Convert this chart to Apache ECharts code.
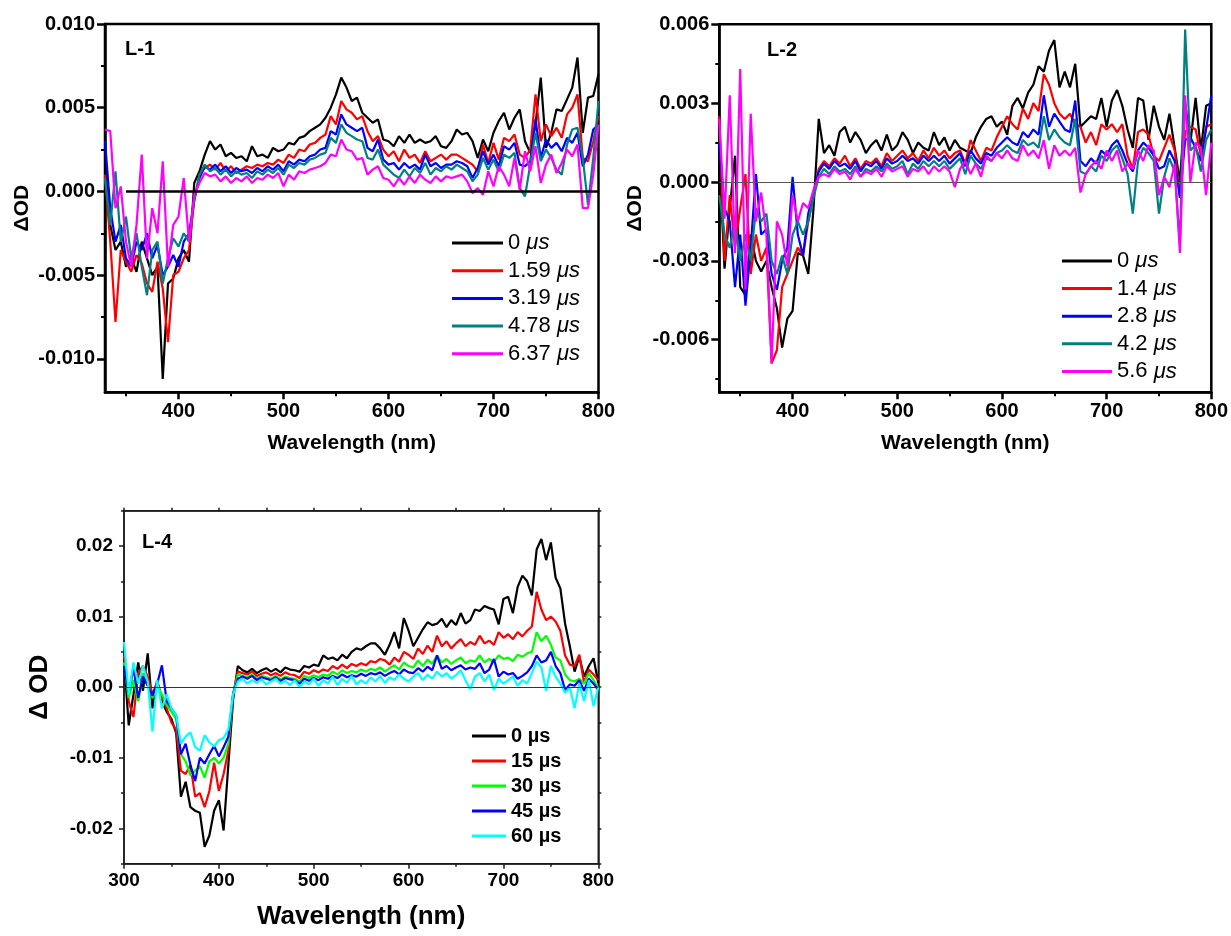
<!DOCTYPE html>
<html>
<head>
<meta charset="utf-8">
<title>Transient absorption spectra</title>
<script src="https://cdn.jsdelivr.net/npm/echarts@6/dist/echarts.min.js"></script>
<style>
  html, body { margin: 0; padding: 0; background: #fff; }
  #chart { width: 1231px; height: 936px; }
</style>
</head>
<body>
<div id="chart"></div>
<script>
// ---------- L-1 : delays 0 - 6.37 us ----------
const l1Wavelength = [
  330,335,340,345,350,355,360,365,370,375,
  380,385,390,395,400,405,410,415,420,425,
  430,435,440,445,450,455,460,465,470,475,
  480,485,490,495,500,505,510,515,520,525,
  530,535,540,545,550,555,560,565,570,575,
  580,585,590,595,600,605,610,615,620,625,
  630,635,640,645,650,655,660,665,670,675,
  680,685,690,695,700,705,710,715,720,725,
  730,735,740,745,750,755,760,765,770,775,
  780,785,790,795,800
];
const l1Delay0 = [
  0.0015,-0.0020,-0.0035,-0.0030,-0.0045,-0.0040,-0.0048,-0.0030,-0.0040,-0.0050,
  -0.0045,-0.0112,-0.0055,-0.0052,-0.0040,-0.0035,-0.0042,0.0005,0.0012,0.0022,
  0.0030,0.0025,0.0028,0.0021,0.0023,0.0020,0.0021,0.0018,0.0027,0.0021,
  0.0022,0.0020,0.0026,0.0024,0.0025,0.0029,0.0028,0.0032,0.0033,0.0036,
  0.0038,0.0040,0.0044,0.0050,0.0058,0.0068,0.0062,0.0054,0.0056,0.0047,
  0.0044,0.0041,0.0043,0.0031,0.0030,0.0027,0.0033,0.0029,0.0034,0.0029,
  0.0031,0.0029,0.0030,0.0033,0.0027,0.0026,0.0030,0.0037,0.0034,0.0035,
  0.0030,0.0020,0.0031,0.0024,0.0035,0.0042,0.0047,0.0037,0.0044,0.0049,
  0.0030,0.0023,0.0040,0.0068,0.0026,0.0035,0.0049,0.0048,0.0055,0.0062,
  0.0080,0.0035,0.0056,0.0057,0.0070
];
const l1Delay159 = [
  0.0010,-0.0030,-0.0078,-0.0035,-0.0042,-0.0048,-0.0038,-0.0043,-0.0055,-0.0060,
  -0.0042,-0.0058,-0.0090,-0.0050,-0.0048,-0.0040,-0.0035,-0.0005,0.0010,0.0014,
  0.0016,0.0013,0.0017,0.0012,0.0015,0.0011,0.0013,0.0015,0.0014,0.0016,
  0.0015,0.0017,0.0016,0.0019,0.0017,0.0022,0.0020,0.0025,0.0024,0.0028,
  0.0029,0.0032,0.0034,0.0045,0.0040,0.0054,0.0049,0.0047,0.0043,0.0045,
  0.0036,0.0030,0.0033,0.0025,0.0021,0.0024,0.0018,0.0025,0.0020,0.0022,
  0.0017,0.0024,0.0018,0.0020,0.0022,0.0019,0.0022,0.0022,0.0020,0.0018,
  0.0016,0.0012,0.0028,0.0017,0.0029,0.0019,0.0032,0.0030,0.0034,0.0022,
  0.0020,0.0025,0.0058,0.0030,0.0040,0.0033,0.0038,0.0032,0.0046,0.0050,
  0.0058,0.0020,0.0018,0.0030,0.0045
];
const l1Delay319 = [
  0.0030,-0.0010,-0.0030,-0.0020,-0.0040,-0.0045,-0.0030,-0.0035,-0.0025,-0.0040,
  -0.0032,-0.0050,-0.0045,-0.0038,-0.0045,-0.0030,-0.0025,-0.0005,0.0008,0.0015,
  0.0013,0.0016,0.0012,0.0015,0.0011,0.0014,0.0012,0.0013,0.0011,0.0014,
  0.0012,0.0015,0.0013,0.0016,0.0012,0.0018,0.0016,0.0019,0.0018,0.0021,
  0.0022,0.0025,0.0026,0.0036,0.0034,0.0046,0.0040,0.0038,0.0036,0.0038,
  0.0026,0.0024,0.0031,0.0019,0.0016,0.0017,0.0013,0.0017,0.0014,0.0016,
  0.0013,0.0022,0.0015,0.0017,0.0014,0.0016,0.0016,0.0018,0.0017,0.0015,
  0.0008,0.0014,0.0024,0.0016,0.0022,0.0015,0.0027,0.0025,0.0029,0.0016,
  0.0015,0.0018,0.0043,0.0020,0.0031,0.0026,0.0029,0.0024,0.0032,0.0029,
  0.0035,0.0015,0.0022,0.0037,0.0040
];
const l1Delay478 = [
  0.0008,-0.0020,0.0012,-0.0030,-0.0015,-0.0040,-0.0025,-0.0045,-0.0062,-0.0035,
  -0.0030,-0.0055,-0.0040,-0.0028,-0.0033,-0.0025,-0.0030,-0.0005,0.0010,0.0016,
  0.0012,0.0014,0.0010,0.0013,0.0009,0.0012,0.0010,0.0011,0.0008,0.0012,
  0.0010,0.0013,0.0011,0.0014,0.0010,0.0016,0.0014,0.0017,0.0016,0.0019,
  0.0020,0.0022,0.0023,0.0032,0.0029,0.0040,0.0035,0.0033,0.0031,0.0030,
  0.0020,0.0019,0.0025,0.0016,0.0013,0.0010,0.0008,0.0013,0.0009,0.0014,
  0.0011,0.0017,0.0010,0.0014,0.0012,0.0015,0.0013,0.0016,0.0014,0.0012,
  0.0006,0.0010,0.0020,0.0013,0.0019,0.0012,0.0022,0.0020,0.0023,0.0002,
  -0.0003,0.0016,0.0035,0.0018,0.0025,0.0020,0.0013,0.0010,0.0028,0.0037,
  0.0038,0.0020,-0.0008,0.0020,0.0054
];
const l1Delay637 = [
  0.0037,0.0036,-0.0010,0.0003,-0.0030,-0.0045,-0.0020,0.0022,-0.0040,-0.0010,
  -0.0025,0.0018,-0.0045,-0.0020,-0.0015,0.0008,-0.0030,-0.0002,0.0005,0.0011,
  0.0009,0.0010,0.0006,0.0009,0.0005,0.0008,0.0006,0.0009,0.0005,0.0008,
  0.0007,0.0010,0.0008,0.0011,0.0003,0.0010,0.0007,0.0012,0.0011,0.0013,
  0.0014,0.0015,0.0017,0.0022,0.0021,0.0031,0.0025,0.0024,0.0019,0.0020,
  0.0010,0.0013,0.0015,0.0008,0.0007,0.0003,0.0008,0.0004,0.0009,0.0005,
  0.0010,0.0007,0.0005,0.0009,0.0006,0.0009,0.0008,0.0009,0.0010,0.0006,
  -0.0001,0.0002,-0.0002,0.0012,0.0003,0.0015,0.0010,0.0003,0.0020,0.0001,
  0.0024,0.0012,0.0027,0.0005,0.0016,0.0022,0.0011,0.0017,0.0025,0.0021,
  0.0028,-0.0010,-0.0010,0.0010,0.0040
];
const l1Names = ['0 μs', '1.59 μs', '3.19 μs', '4.78 μs', '6.37 μs'];

// ---------- L-2 : delays 0 - 5.6 us ----------
const l2Wavelength = [
  330,335,340,345,350,355,360,365,370,375,
  380,385,390,395,400,405,410,415,420,425,
  430,435,440,445,450,455,460,465,470,475,
  480,485,490,495,500,505,510,515,520,525,
  530,535,540,545,550,555,560,565,570,575,
  580,585,590,595,600,605,610,615,620,625,
  630,635,640,645,650,655,660,665,670,675,
  680,685,690,695,700,705,710,715,720,725,
  730,735,740,745,750,755,760,765,770,775,
  780,785,790,795,800
];
const l2Delay0 = [
  0.0010,-0.0033,-0.0010,0.0010,-0.0040,-0.0043,-0.0020,-0.0030,-0.0034,-0.0030,
  -0.0040,-0.0048,-0.0063,-0.0052,-0.0049,-0.0027,-0.0028,-0.0035,-0.0010,0.0024,
  0.0011,0.0014,0.0010,0.0019,0.0021,0.0015,0.0019,0.0016,0.0011,0.0014,
  0.0016,0.0012,0.0018,0.0012,0.0014,0.0019,0.0016,0.0011,0.0015,0.0013,
  0.0012,0.0019,0.0014,0.0017,0.0012,0.0016,0.0013,0.0012,0.0011,0.0017,
  0.0021,0.0024,0.0025,0.0021,0.0023,0.0018,0.0029,0.0032,0.0028,0.0034,
  0.0037,0.0044,0.0042,0.0050,0.0054,0.0036,0.0042,0.0036,0.0045,0.0021,
  0.0023,0.0025,0.0024,0.0032,0.0021,0.0031,0.0035,0.0029,0.0020,0.0013,
  0.0032,0.0031,0.0016,0.0029,0.0021,0.0016,0.0026,0.0013,0.0000,0.0030,
  0.0015,0.0032,0.0012,0.0029,0.0030
];
const l2Delay14 = [
  0.0025,-0.0030,-0.0005,-0.0025,-0.0010,0.0003,-0.0035,-0.0020,-0.0030,-0.0025,
  -0.0069,-0.0064,-0.0040,-0.0035,-0.0030,-0.0025,-0.0028,-0.0015,-0.0005,0.0005,
  0.0008,0.0006,0.0009,0.0007,0.0010,0.0006,0.0009,0.0005,0.0008,0.0007,
  0.0009,0.0006,0.0011,0.0008,0.0010,0.0012,0.0009,0.0011,0.0008,0.0012,
  0.0009,0.0013,0.0010,0.0012,0.0009,0.0011,0.0012,0.0007,0.0016,0.0012,
  0.0008,0.0013,0.0012,0.0017,0.0021,0.0025,0.0022,0.0020,0.0028,0.0024,
  0.0030,0.0027,0.0041,0.0037,0.0030,0.0026,0.0024,0.0026,0.0022,0.0021,
  0.0015,0.0019,0.0014,0.0022,0.0020,0.0022,0.0019,0.0022,0.0010,0.0005,
  0.0019,0.0020,0.0018,0.0010,0.0008,0.0013,0.0018,0.0012,-0.0005,0.0019,
  0.0021,0.0020,0.0010,0.0021,0.0022
];
const l2Delay28 = [
  0.0015,-0.0010,-0.0015,-0.0040,-0.0020,-0.0047,-0.0025,0.0003,-0.0020,-0.0018,
  -0.0035,-0.0041,-0.0030,-0.0025,0.0002,-0.0020,-0.0028,-0.0012,-0.0004,0.0004,
  0.0007,0.0005,0.0008,0.0006,0.0007,0.0005,0.0008,0.0004,0.0007,0.0006,
  0.0008,0.0005,0.0009,0.0007,0.0008,0.0010,0.0008,0.0009,0.0007,0.0010,
  0.0008,0.0010,0.0008,0.0010,0.0007,0.0009,0.0011,0.0006,0.0012,0.0009,
  0.0007,0.0011,0.0010,0.0013,0.0015,0.0017,0.0015,0.0014,0.0019,0.0017,
  0.0020,0.0018,0.0033,0.0021,0.0026,0.0023,0.0020,0.0019,0.0031,0.0008,
  0.0006,0.0009,0.0007,0.0012,0.0010,0.0014,0.0016,0.0012,0.0007,0.0004,
  0.0012,0.0015,0.0013,0.0010,0.0005,0.0006,0.0012,0.0008,-0.0006,0.0016,
  0.0017,0.0013,0.0008,0.0020,0.0033
];
const l2Delay42 = [
  -0.0005,-0.0020,-0.0025,-0.0015,-0.0030,-0.0020,-0.0030,-0.0010,-0.0015,-0.0012,
  -0.0030,-0.0035,-0.0028,-0.0035,-0.0020,-0.0015,-0.0020,-0.0015,-0.0006,0.0002,
  0.0005,0.0003,0.0006,0.0004,0.0005,0.0003,0.0006,0.0002,0.0005,0.0004,
  0.0006,0.0004,0.0007,0.0005,0.0006,0.0008,0.0003,0.0007,0.0005,0.0008,
  0.0006,0.0008,0.0006,0.0008,0.0005,0.0007,0.0009,0.0003,0.0010,0.0007,
  0.0005,0.0009,0.0008,0.0011,0.0012,0.0014,0.0012,0.0011,0.0016,0.0014,
  0.0015,0.0013,0.0025,0.0016,0.0020,0.0017,0.0015,0.0014,0.0024,0.0004,
  0.0003,0.0006,0.0004,0.0010,0.0008,0.0012,0.0014,0.0009,0.0003,-0.0012,
  0.0008,0.0013,0.0011,0.0008,-0.0012,0.0002,0.0009,0.0004,-0.0024,0.0058,
  0.0012,0.0014,0.0004,0.0016,0.0020
];
const l2Delay56 = [
  0.0024,-0.0014,0.0033,-0.0027,0.0043,-0.0041,0.0026,-0.0015,-0.0004,-0.0020,
  -0.0069,-0.0015,-0.0020,-0.0032,-0.0005,-0.0015,-0.0008,-0.0010,-0.0003,0.0002,
  0.0003,0.0002,0.0005,0.0003,0.0004,0.0001,0.0005,0.0002,0.0004,0.0003,
  0.0005,0.0002,0.0006,0.0004,0.0005,0.0006,0.0002,0.0005,0.0004,0.0006,
  0.0003,0.0006,0.0004,0.0006,0.0004,-0.0002,0.0005,0.0008,0.0003,0.0007,
  0.0002,0.0010,0.0008,0.0011,0.0009,0.0012,0.0009,0.0008,0.0014,0.0010,
  0.0012,0.0009,0.0016,0.0005,0.0014,0.0010,0.0012,0.0010,0.0013,-0.0004,
  0.0003,0.0006,0.0008,0.0005,0.0012,0.0008,0.0012,0.0004,0.0007,0.0005,
  0.0012,0.0008,0.0014,0.0012,-0.0005,0.0002,-0.0002,0.0007,-0.0027,0.0033,
  0.0000,0.0015,0.0013,-0.0005,0.0015
];
const l2Names = ['0 μs', '1.4 μs', '2.8 μs', '4.2 μs', '5.6 μs'];

// ---------- L-4 : delays 0 - 60 us ----------
const l4Wavelength = [
  300,305,310,315,320,325,330,335,340,345,
  350,355,360,365,370,375,380,385,390,395,
  400,405,410,415,420,425,430,435,440,445,
  450,455,460,465,470,475,480,485,490,495,
  500,505,510,515,520,525,530,535,540,545,
  550,555,560,565,570,575,580,585,590,595,
  600,605,610,615,620,625,630,635,640,645,
  650,655,660,665,670,675,680,685,690,695,
  700,705,710,715,720,725,730,735,740,745,
  750,755,760,765,770,775,780,785,790,795,
  800
];
const l4Delay0 = [
  0.0040,-0.0054,-0.0010,0.0035,-0.0005,0.0048,-0.0030,0.0010,-0.0020,-0.0035,
  -0.0045,-0.0065,-0.0155,-0.0134,-0.0170,-0.0175,-0.0178,-0.0226,-0.0210,-0.0175,
  -0.0160,-0.0203,-0.0110,-0.0018,0.0030,0.0024,0.0021,0.0026,0.0020,0.0024,
  0.0027,0.0022,0.0026,0.0021,0.0028,0.0025,0.0024,0.0022,0.0030,0.0028,
  0.0032,0.0030,0.0045,0.0040,0.0042,0.0038,0.0046,0.0041,0.0050,0.0055,
  0.0053,0.0058,0.0062,0.0062,0.0055,0.0046,0.0060,0.0078,0.0055,0.0098,
  0.0080,0.0058,0.0070,0.0082,0.0092,0.0088,0.0090,0.0097,0.0085,0.0095,
  0.0088,0.0105,0.0090,0.0095,0.0110,0.0108,0.0115,0.0112,0.0110,0.0089,
  0.0125,0.0128,0.0105,0.0142,0.0158,0.0150,0.0130,0.0195,0.0210,0.0180,
  0.0205,0.0155,0.0140,0.0090,0.0058,0.0022,0.0043,0.0015,0.0030,0.0041,
  0.0006
];
const l4Delay15 = [
  0.0045,-0.0020,-0.0042,0.0020,0.0030,0.0015,-0.0010,0.0008,-0.0015,-0.0030,
  -0.0050,-0.0060,-0.0118,-0.0123,-0.0110,-0.0155,-0.0150,-0.0170,-0.0147,-0.0107,
  -0.0147,-0.0123,-0.0090,-0.0010,0.0022,0.0020,0.0018,0.0022,0.0016,0.0019,
  0.0021,0.0017,0.0020,0.0016,0.0021,0.0018,0.0017,0.0013,0.0022,0.0019,
  0.0024,0.0021,0.0025,0.0023,0.0030,0.0026,0.0032,0.0027,0.0033,0.0030,
  0.0034,0.0031,0.0037,0.0035,0.0040,0.0038,0.0032,0.0042,0.0036,0.0050,
  0.0046,0.0040,0.0055,0.0047,0.0059,0.0050,0.0073,0.0058,0.0065,0.0055,
  0.0062,0.0068,0.0058,0.0064,0.0060,0.0073,0.0062,0.0066,0.0060,0.0078,
  0.0070,0.0075,0.0068,0.0078,0.0072,0.0080,0.0086,0.0135,0.0110,0.0095,
  0.0100,0.0093,0.0080,0.0045,0.0032,0.0030,0.0046,0.0006,0.0025,0.0018,
  0.0010
];
const l4Delay30 = [
  0.0035,-0.0015,0.0010,-0.0020,0.0020,0.0005,-0.0015,0.0002,-0.0010,-0.0025,
  -0.0035,-0.0045,-0.0095,-0.0105,-0.0125,-0.0118,-0.0112,-0.0128,-0.0105,-0.0100,
  -0.0108,-0.0100,-0.0080,-0.0010,0.0018,0.0016,0.0014,0.0018,0.0012,0.0016,
  0.0014,0.0012,0.0016,0.0011,0.0015,0.0013,0.0012,0.0008,0.0016,0.0013,
  0.0017,0.0014,0.0018,0.0016,0.0022,0.0018,0.0024,0.0020,0.0023,0.0021,
  0.0025,0.0022,0.0026,0.0024,0.0028,0.0022,0.0027,0.0031,0.0025,0.0035,
  0.0030,0.0028,0.0038,0.0030,0.0039,0.0033,0.0045,0.0035,0.0040,0.0033,
  0.0038,0.0042,0.0034,0.0038,0.0036,0.0045,0.0035,0.0040,0.0036,0.0045,
  0.0040,0.0042,0.0037,0.0046,0.0043,0.0048,0.0050,0.0078,0.0065,0.0073,
  0.0060,0.0042,0.0038,0.0018,0.0010,0.0008,0.0012,0.0005,0.0020,0.0010,
  -0.0002
];
const l4Delay45 = [
  0.0030,-0.0008,0.0027,-0.0015,0.0015,0.0002,-0.0012,0.0005,0.0031,-0.0020,
  -0.0030,-0.0040,-0.0095,-0.0080,-0.0110,-0.0133,-0.0100,-0.0108,-0.0095,-0.0083,
  -0.0098,-0.0085,-0.0070,-0.0010,0.0012,0.0015,0.0012,0.0016,0.0010,0.0014,
  0.0012,0.0010,0.0014,0.0009,0.0013,0.0011,0.0010,0.0005,0.0012,0.0009,
  0.0013,0.0010,0.0014,0.0012,0.0016,0.0013,0.0018,0.0014,0.0017,0.0015,
  0.0019,0.0016,0.0020,0.0018,0.0021,0.0016,0.0020,0.0023,0.0018,0.0025,
  0.0021,0.0020,0.0027,0.0022,0.0029,0.0024,0.0045,0.0026,0.0030,0.0024,
  0.0028,0.0031,0.0025,0.0028,0.0026,0.0034,0.0020,0.0025,0.0040,0.0015,
  0.0022,0.0018,0.0020,0.0012,0.0016,0.0021,0.0030,0.0045,0.0035,0.0038,
  0.0050,0.0030,0.0020,-0.0004,0.0004,0.0002,0.0010,-0.0005,0.0012,0.0005,
  -0.0004
];
const l4Delay60 = [
  0.0064,-0.0010,0.0035,0.0005,0.0030,0.0008,-0.0063,0.0010,-0.0030,-0.0010,
  -0.0030,-0.0040,-0.0080,-0.0070,-0.0064,-0.0085,-0.0090,-0.0068,-0.0078,-0.0084,
  -0.0075,-0.0072,-0.0060,-0.0010,0.0008,0.0012,0.0005,0.0010,0.0006,0.0011,
  0.0004,0.0008,0.0012,0.0005,0.0009,0.0003,0.0010,0.0000,0.0008,0.0004,
  0.0012,0.0002,0.0010,0.0005,0.0015,0.0003,0.0012,0.0006,0.0016,0.0004,
  0.0010,0.0005,0.0014,0.0008,0.0016,0.0006,0.0014,0.0010,0.0018,0.0012,
  0.0008,0.0015,0.0020,0.0010,0.0018,0.0012,0.0022,0.0015,0.0020,0.0012,
  0.0017,0.0024,0.0010,-0.0003,0.0015,0.0020,0.0008,0.0018,-0.0004,0.0012,
  0.0005,0.0010,0.0015,0.0002,0.0010,0.0005,0.0020,0.0036,0.0028,-0.0005,
  0.0030,0.0015,0.0005,-0.0008,0.0000,-0.0030,0.0005,-0.0020,0.0010,-0.0027,
  0.0000
];
const l4Names = ['0 µs', '15 µs', '30 µs', '45 µs', '60 µs'];

// ---------- tick positions ----------
const l1XTicks = [400, 500, 600, 700, 800];
const l1XMinor = [350, 450, 550, 650, 750];
const l1YTicks = [-0.010, -0.005, 0, 0.005, 0.010];
const l1YMinor = [-0.0075, -0.0025, 0.0025, 0.0075];
const l2XTicks = [400, 500, 600, 700, 800];
const l2XMinor = [350, 450, 550, 650, 750];
const l2YTicks = [-0.006, -0.003, 0, 0.003, 0.006];
const l2YMinor = [-0.0075, -0.0045, -0.0015, 0.0015, 0.0045];
const l4XTicks = [300, 400, 500, 600, 700, 800];
const l4XMinor = [350, 450, 550, 650, 750];
const l4XFrame = [300, 350, 400, 450, 500, 550, 600, 650, 700, 750, 800];
const l4YTicks = [-0.02, -0.01, 0, 0.01, 0.02];
const l4YMinor = [-0.025, -0.015, -0.005, 0.005, 0.015, 0.025];
const l4YFrame = [-0.025, -0.02, -0.015, -0.01, -0.005, 0, 0.005, 0.01, 0.015, 0.02, 0.025];

const FONT = "Arial, 'Liberation Sans', Helvetica, sans-serif";
const BLACK = '#000000', RED = '#ff0000', BLUE = '#0000ff', TEAL = '#008080',
      MAGENTA = '#ff00ff', GREEN = '#00ff00', CYAN = '#00ffff';

function lineSeries(name, wl, vals, color, axisIdx, width) {
  return {
    name, type: 'line', xAxisIndex: axisIdx, yAxisIndex: axisIdx,
    data: wl.map((w, i) => [w, vals[i]]),
    symbol: 'none', showSymbol: false, smooth: false,
    lineStyle: { color, width }, itemStyle: { color },
    emphasis: { disabled: true }, silent: true, animation: false
  };
}

function majorAxis(o) {
  const lw = o.lineWidth;
  return {
    type: 'value', gridIndex: o.grid, position: o.position, min: o.min, max: o.max,
    axisLine: { show: o.line !== false, onZero: false, lineStyle: { color: o.lineColor || BLACK, width: lw } },
    axisTick: { show: true, inside: false, length: o.tickLen, customValues: o.ticks,
                lineStyle: { color: o.lineColor || BLACK, width: lw } },
    axisLabel: o.labels ? {
      show: true, customValues: o.ticks, margin: o.margin, color: BLACK,
      fontFamily: FONT, fontWeight: 'bold', fontSize: o.fontSize, formatter: o.formatter
    } : { show: false },
    splitLine: { show: false }, axisPointer: { show: false },
    name: o.name || '', nameLocation: 'middle', nameGap: o.nameGap || 0,
    nameTextStyle: { color: BLACK, fontFamily: FONT, fontWeight: 'bold', fontSize: o.nameSize || 12 }
  };
}

// legend keys are short thick strokes; the text line height sets the row pitch
function legendBlock(names, left, top, o) {
  return {
    data: names.map((n) => ({ name: n, icon: 'rect' })),
    orient: 'vertical', left, top, padding: 0,
    itemWidth: o.iconWidth, itemHeight: 3, itemGap: o.gap,
    selectedMode: false,
    itemStyle: { borderWidth: 0 },
    textStyle: {
      color: BLACK, fontFamily: FONT, fontSize: o.fontSize, fontWeight: o.weight, lineHeight: o.lineHeight,
      rich: { it: { fontStyle: 'italic', fontFamily: FONT, fontSize: o.fontSize, fontWeight: o.weight, color: BLACK, lineHeight: o.lineHeight } }
    },
    formatter: o.italicUnit ? (n) => n.replace('μs', '{it|μs}') : (n) => n
  };
}

const chart = echarts.init(document.getElementById('chart'), null, { renderer: 'canvas' });

const fmt3 = (v) => v.toFixed(3);
const fmt2 = (v) => v.toFixed(2);

const series = [];
// L-1
[[l1Delay0, BLACK], [l1Delay159, RED], [l1Delay319, BLUE], [l1Delay478, TEAL], [l1Delay637, MAGENTA]]
  .forEach(([vals, c], i) => series.push(lineSeries(l1Names[i], l1Wavelength, vals, c, 0, 2.2)));
// L-2
[[l2Delay0, BLACK], [l2Delay14, RED], [l2Delay28, BLUE], [l2Delay42, TEAL], [l2Delay56, MAGENTA]]
  .forEach(([vals, c], i) => series.push(lineSeries(l2Names[i], l2Wavelength, vals, c, 2, 2.2)));
// L-4
[[l4Delay0, BLACK], [l4Delay15, RED], [l4Delay30, GREEN], [l4Delay45, BLUE], [l4Delay60, CYAN]]
  .forEach(([vals, c], i) => series.push(lineSeries(l4Names[i], l4Wavelength, vals, c, 4, 2.2)));

// zero reference lines
series[0].markLine = {
  silent: true, symbol: 'none', label: { show: false }, animation: false,
  lineStyle: { color: BLACK, width: 2.5, type: 'solid' },
  data: [[{ coord: [350, 0] }, { coord: [800, 0] }]]
};
series[5].markLine = {
  silent: true, symbol: 'none', label: { show: false }, animation: false,
  lineStyle: { color: '#555555', width: 1.2, type: 'solid' },
  data: [{ yAxis: 0 }]
};
series[10].markLine = {
  silent: true, symbol: 'none', label: { show: false }, animation: false,
  lineStyle: { color: '#333333', width: 1.2, type: 'solid' },
  data: [{ yAxis: 0 }]
};

const option = {
  backgroundColor: '#ffffff',
  animation: false,
  title: [
    { text: 'L-1', left: 125, top: 39, padding: 0, textStyle: { fontFamily: FONT, fontSize: 20, fontWeight: 'bold', color: BLACK } },
    { text: 'L-2', left: 767, top: 40, padding: 0, textStyle: { fontFamily: FONT, fontSize: 20, fontWeight: 'bold', color: BLACK } },
    { text: 'L-4', left: 142, top: 532, padding: 0, textStyle: { fontFamily: FONT, fontSize: 20, fontWeight: 'bold', color: BLACK } }
  ],
  legend: [
    legendBlock(l1Names, 452, 232, { iconWidth: 51, lineHeight: 22, gap: 5.7, fontSize: 22, weight: 'normal', italicUnit: true }),
    legendBlock(l2Names, 1062, 250, { iconWidth: 50, lineHeight: 22, gap: 5.6, fontSize: 22, weight: 'normal', italicUnit: true }),
    legendBlock(l4Names, 472, 726, { iconWidth: 34, lineHeight: 20, gap: 5, fontSize: 20, weight: 'bold', italicUnit: false })
  ],
  grid: [
    { left: 105, top: 24, width: 493.5, height: 368.3, show: true, borderColor: BLACK, borderWidth: 2.5, backgroundColor: 'transparent' },
    { left: 719.3, top: 24.3, width: 492.4, height: 368, show: true, borderColor: BLACK, borderWidth: 2.5, backgroundColor: 'transparent' },
    { left: 124, top: 510.7, width: 474.3, height: 353, show: true, borderColor: '#1a1a1a', borderWidth: 1.5, backgroundColor: 'transparent' }
  ],
  xAxis: [
    majorAxis({ grid: 0, position: 'bottom', min: 330, max: 800, ticks: l1XTicks, tickLen: 7, lineWidth: 2.5,
      labels: true, margin: 9, fontSize: 20, name: 'Wavelength (nm)', nameGap: 40, nameSize: 21 }),
    majorAxis({ grid: 0, position: 'bottom', min: 330, max: 800, ticks: l1XMinor, tickLen: 4, lineWidth: 2, line: false }),
    majorAxis({ grid: 1, position: 'bottom', min: 330, max: 800, ticks: l2XTicks, tickLen: 7, lineWidth: 2.5,
      labels: true, margin: 9, fontSize: 20, name: 'Wavelength (nm)', nameGap: 40, nameSize: 21 }),
    majorAxis({ grid: 1, position: 'bottom', min: 330, max: 800, ticks: l2XMinor, tickLen: 4, lineWidth: 2, line: false }),
    majorAxis({ grid: 2, position: 'bottom', min: 300, max: 800, ticks: l4XTicks, tickLen: 5, lineWidth: 1.5, lineColor: '#1a1a1a',
      labels: true, margin: 8, fontSize: 19, name: 'Wavelength (nm)', nameGap: 40, nameSize: 26 }),
    majorAxis({ grid: 2, position: 'bottom', min: 300, max: 800, ticks: l4XMinor, tickLen: 3, lineWidth: 1.5, lineColor: '#1a1a1a', line: false }),
    majorAxis({ grid: 2, position: 'top', min: 300, max: 800, ticks: l4XFrame, tickLen: 3, lineWidth: 1.5, lineColor: '#1a1a1a' })
  ],
  yAxis: [
    majorAxis({ grid: 0, position: 'left', min: -0.012, max: 0.010, ticks: l1YTicks, tickLen: 8, lineWidth: 2.5,
      labels: true, margin: 10, fontSize: 20, formatter: fmt3, name: 'ΔOD', nameGap: 72, nameSize: 21 }),
    majorAxis({ grid: 0, position: 'left', min: -0.012, max: 0.010, ticks: l1YMinor, tickLen: 4, lineWidth: 2, line: false }),
    majorAxis({ grid: 1, position: 'left', min: -0.008, max: 0.006, ticks: l2YTicks, tickLen: 8, lineWidth: 2.5,
      labels: true, margin: 10, fontSize: 20, formatter: fmt3, name: 'ΔOD', nameGap: 74, nameSize: 21 }),
    majorAxis({ grid: 1, position: 'left', min: -0.008, max: 0.006, ticks: l2YMinor, tickLen: 4, lineWidth: 2, line: false }),
    majorAxis({ grid: 2, position: 'left', min: -0.025, max: 0.025, ticks: l4YTicks, tickLen: 5, lineWidth: 1.5, lineColor: '#1a1a1a',
      labels: true, margin: 11, fontSize: 19, formatter: fmt2, name: 'Δ OD', nameGap: 71, nameSize: 26 }),
    majorAxis({ grid: 2, position: 'left', min: -0.025, max: 0.025, ticks: l4YMinor, tickLen: 3, lineWidth: 1.5, lineColor: '#1a1a1a', line: false }),
    majorAxis({ grid: 2, position: 'right', min: -0.025, max: 0.025, ticks: l4YFrame, tickLen: 3, lineWidth: 1.5, lineColor: '#1a1a1a' })
  ],
  series
};

chart.setOption(option);
</script>
</body>
</html>
